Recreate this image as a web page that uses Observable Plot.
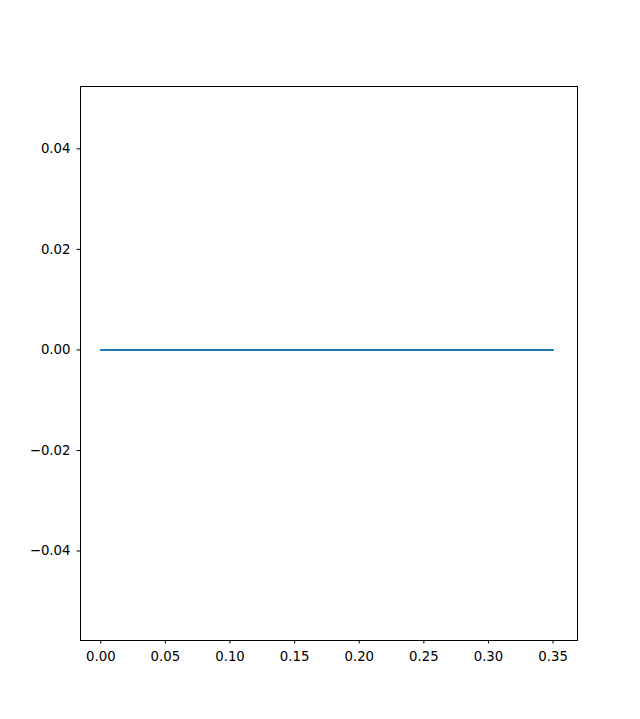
<!DOCTYPE html>
<html>
<head>
<meta charset="utf-8">
<script src="https://cdn.jsdelivr.net/npm/d3@7"></script>
<script src="https://cdn.jsdelivr.net/npm/@observablehq/plot@0.6"></script>
<style>
  html, body { margin: 0; padding: 0; background: #fff; }
  #chart svg { display: block; }
</style>
</head>
<body>
<div id="chart"></div>
<script>
const xValues = [0, 0.05, 0.10, 0.15, 0.20, 0.25, 0.30, 0.35];
const yValues = [0, 0, 0, 0, 0, 0, 0, 0];
const xTicks = [0, 0.05, 0.10, 0.15, 0.20, 0.25, 0.30, 0.35];
const yTicks = [-0.04, -0.02, 0, 0.02, 0.04];

const data = xValues.map((x, i) => ({x, y: yValues[i]}));
const fmt = d3.format(".2f");

const chart = Plot.plot({
  width: 640,
  height: 719,
  marginLeft: 80,
  marginTop: 86,
  marginRight: 63,
  marginBottom: 79,
  style: {fontFamily: "DejaVu Sans", fontSize: "13.3px", color: "#000", background: "#fff"},
  x: {domain: [-0.0157, 0.3689], label: null},
  y: {domain: [-0.0578, 0.0524], label: null},
  marks: [
    Plot.axisX({ticks: xTicks, tickFormat: fmt, tickSize: 3.5, tickPadding: 8, stroke: "#000", strokeOpacity: 1, fill: "#000", label: null}),
    Plot.axisY({ticks: yTicks, tickFormat: fmt, tickSize: 3.5, tickPadding: 6.5, stroke: "#000", strokeOpacity: 1, fill: "#000", label: null}),
    Plot.lineY(data, {x: "x", y: "y", stroke: "#1f77b4", strokeWidth: 2}),
    Plot.frame({stroke: "#000", strokeWidth: 1})
  ]
});
document.getElementById("chart").appendChild(chart);
</script>
</body>
</html>
